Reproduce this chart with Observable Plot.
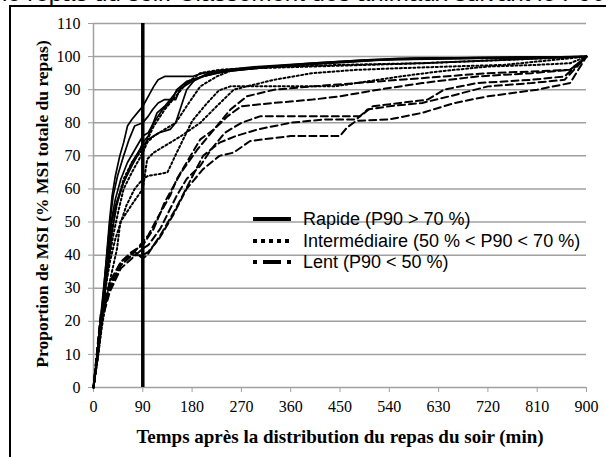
<!DOCTYPE html>
<html>
<head>
<meta charset="utf-8">
<script src="https://cdn.jsdelivr.net/npm/d3@7"></script>
<script src="https://cdn.jsdelivr.net/npm/@observablehq/plot@0.6"></script>
<style>
  html, body { margin: 0; padding: 0; background: #fff; overflow: hidden; }
  #wrap { position: relative; width: 606px; height: 457px; overflow: hidden; }
  #topText { position: absolute; left: 2px; top: -19px; font: 24px "Liberation Sans", Arial, sans-serif; line-height: 24px; white-space: nowrap; color: #000; }
  #frame { position: absolute; left: 9px; top: 5px; width: 700px; height: 600px; border-left: 2px solid #000; border-top: 2px solid #000; }
  #chart { position: absolute; left: 0; top: 0; }
</style>
</head>
<body>
<div id="wrap">
  <div id="topText">le repas du soir. Classement des animaux suivant le P90</div>
  <div id="frame"></div>
  <div id="chart"></div>
</div>
<script>
// ---- Data (time in min, cumulative % of meal DMI) ----
const xTicks = [0, 90, 180, 270, 360, 450, 540, 630, 720, 810, 900];
const yTicks = [0, 10, 20, 30, 40, 50, 60, 70, 80, 90, 100, 110];
const xTitle = "Temps après la distribution du repas du soir (min)";
const yTitle = "Proportion de MSI (% MSI totale du repas)";
const groups = ["Rapide (P90 > 70 %)", "Intermédiaire (50 % < P90 < 70 %)", "Lent (P90 < 50 %)"];
const markerTime = 90;

// Rapide (solid)
const rapide1 = [[0,0],[7,10],[13,20],[19,30],[24,40],[29,50],[34,58],[40,64],[48,70],[55,74],[62,79],[70,81],[80,83],[90,85],[100,88],[110,91],[118,93],[130,94],[180,94],[200,95],[240,96],[300,97],[400,98],[500,99],[560,99.5],[900,100]];
const rapide2 = [[0,0],[7,11],[13,21],[19,31],[25,41],[30,50],[36,58],[44,64],[55,70],[65,75],[75,79],[90,80],[100,82],[108,84],[118,86],[130,87],[150,87],[160,91],[180,93],[220,95],[270,96],[330,97],[420,98],[520,99],[600,99.5],[900,100]];
const rapide3 = [[0,0],[7,9],[13,19],[20,30],[26,40],[32,50],[40,57],[50,63],[62,68],[76,72],[90,76],[100,77],[110,80],[126,84],[144,87],[152,90],[170,92.5],[200,94],[240,95.5],[300,96.5],[380,97.5],[480,98.5],[580,99.5],[900,100]];
const rapide4 = [[0,0],[8,10],[14,20],[21,30],[27,40],[33,50],[42,56],[55,62],[70,67],[80,70],[90,74],[100,76],[116,83],[130,85],[140,87],[152,89.5],[175,92],[200,94],[250,96],[330,97],[420,98],[520,99],[900,100]];
const rapide5 = [[0,0],[8,9],[15,19],[21,29],[28,38],[34,47],[42,55],[55,62],[70,68],[85,72],[90,73],[100,75],[120,77],[140,78],[150,80],[160,85],[170,90],[185,93],[210,95],[260,96],[320,97],[400,98],[500,99],[900,100]];

// Intermédiaire (dotted)
const inter1 = [[0,0],[8,10],[15,20],[22,30],[30,38],[40,45],[50,50],[60,55],[75,60],[90,63],[100,64],[120,64.5],[135,65],[152,71],[180,80.5],[205,85.5],[229,89.8],[250,91],[290,91],[360,91],[440,91],[500,92.5],[560,94],[630,95.5],[720,97],[810,97.5],[870,98],[900,100]];
const inter2 = [[0,0],[8,10],[15,20],[22,30],[28,38],[36,46],[45,53],[55,60],[70,65],[80,68],[90,71],[98,74],[110,76],[130,78],[150,80],[170,85],[195,91],[225,94],[255,96],[300,96.5],[400,97],[500,97.5],[600,98],[900,100]];
const inter3 = [[0,0],[8,9],[15,18],[25,28],[31,33],[43,42],[49,50],[55,51.5],[73,56],[90,60],[98,69],[110,71],[130,73],[160,76],[195,80],[225,85],[256,90],[280,91],[330,93],[400,95],[480,96],[560,96.5],[650,97],[750,97.5],[900,100]];
const inter4 = [[0,0],[8,11],[15,21],[22,32],[29,42],[36,50],[45,57],[55,63],[70,68],[90,72],[110,79],[130,84],[150,88],[170,92],[195,95],[230,96],[280,96.5],[350,97],[450,97.5],[600,98],[750,99],[900,100]];

// Lent (dashed)
const lent1 = [[0,0],[5,8],[13,20],[30,30],[50,37],[70,40],[90,44],[100,46],[116,51],[140,58],[152,63],[170,68],[195,75],[220,78],[245,82],[270,85],[330,86],[400,87],[450,88],[520,90],[600,92],[700,94],[800,95],[870,96],[900,100]];
const lent2 = [[0,0],[13,19],[30,29],[50,36],[70,39],[90,42],[100,43],[122,48],[152,58],[170,63],[195,67],[215,72],[240,77],[270,80],[305,82],[400,82],[487,82],[510,85],[560,86],[610,87],[640,90],[700,92],[800,93],[860,94],[900,100]];
const lent3 = [[0,0],[13,20],[30,31],[50,37],[70,40],[90,40],[100,41],[120,45],[145,52],[170,60],[200,66],[230,70],[256,71],[286,74.5],[360,76],[450,76],[463,78.6],[480,80.6],[540,81],[600,83],[660,86],[720,88],[810,90],[870,92],[900,100]];
const lent4 = [[0,0],[13,21],[30,30],[50,38],[70,41],[90,43],[110,48],[130,56],[160,65],[190,72],[220,78],[250,84],[280,88],[330,90],[400,91],[480,92],[560,93],[640,94],[720,95],[800,95.5],[870,96],[900,100]];
const lent5 = [[0,0],[13,22],[30,32],[50,38],[75,41],[90,39],[98,40],[122,46],[150,54],[175,62],[200,70],[230,74],[260,76],[300,78],[360,80],[420,81],[480,81],[500,84],[540,85],[600,86],[650,88],[720,91],[800,92],[860,93],[900,100]];

const seriesList = [
  {id: "R1", group: 0, pts: rapide1}, {id: "R2", group: 0, pts: rapide2}, {id: "R3", group: 0, pts: rapide3},
  {id: "R4", group: 0, pts: rapide4}, {id: "R5", group: 0, pts: rapide5},
  {id: "I1", group: 1, pts: inter1}, {id: "I2", group: 1, pts: inter2}, {id: "I3", group: 1, pts: inter3}, {id: "I4", group: 1, pts: inter4},
  {id: "L1", group: 2, pts: lent1}, {id: "L2", group: 2, pts: lent2}, {id: "L3", group: 2, pts: lent3},
  {id: "L4", group: 2, pts: lent4}, {id: "L5", group: 2, pts: lent5}
];
const rows = seriesList.flatMap(s => s.pts.map(([t, v]) => ({t, v, id: s.id, group: s.group})));

const styles = [
  {strokeWidth: 1.7, strokeDasharray: null},
  {strokeWidth: 2, strokeDasharray: "2,2.5"},
  {strokeWidth: 2, strokeDasharray: "7,4"}
];

const lineMarks = styles.map((st, g) => Plot.line(rows.filter(r => r.group === g), {
  x: "t", y: "v", z: "id", stroke: "#000", strokeWidth: st.strokeWidth,
  strokeDasharray: st.strokeDasharray, strokeLinejoin: "round"
}));

const chart = Plot.plot({
  width: 606, height: 457,
  marginLeft: 93, marginRight: 20, marginTop: 23, marginBottom: 70,
  x: {domain: [0, 900]},
  y: {domain: [0, 110]},
  style: {fontFamily: "'Liberation Serif', 'Times New Roman', serif", fontSize: "16px", color: "#000", background: "transparent", overflow: "visible"},
  marks: [
    Plot.gridY(yTicks, {stroke: "#a0a0a0", strokeOpacity: 1, strokeWidth: 1.5}),
    Plot.ruleX([0], {stroke: "#a0a0a0", strokeWidth: 1.5}),
    Plot.axisY(yTicks, {tickSize: 5, tickPadding: 8, stroke: "#a0a0a0", fill: "#000", label: null}),
    Plot.axisX(xTicks, {tickSize: 5, tickPadding: 8, stroke: "#a0a0a0", fill: "#000", label: null}),
    ...lineMarks,
    Plot.ruleX([markerTime], {stroke: "#000", strokeWidth: 3.5})
  ]
});
document.getElementById("chart").appendChild(chart);

// Axis titles and legend
const svg = d3.select(chart);
svg.append("text").attr("x", 340).attr("y", 443).attr("text-anchor", "middle")
  .style("font", "bold 19px 'Liberation Serif', serif").attr("fill", "#000").text(xTitle);
svg.append("text").attr("transform", "translate(48,204) rotate(-90)").attr("text-anchor", "middle")
  .style("font", "bold 17.5px 'Liberation Serif', serif").attr("fill", "#000").text(yTitle);

const legY = [219, 241, 262];
const legStyles = [
  {w: 4, dash: null},
  {w: 4, dash: "4,4"},
  {w: 4, dash: "4,6,18,6"}
];
const leg = svg.append("g").attr("text-anchor", "start");
groups.forEach((name, i) => {
  const ln = leg.append("line").attr("x1", 253).attr("x2", 291).attr("y1", legY[i]).attr("y2", legY[i])
    .attr("stroke", "#000").attr("stroke-width", legStyles[i].w);
  if (legStyles[i].dash) ln.attr("stroke-dasharray", legStyles[i].dash);
  leg.append("text").attr("x", 303).attr("y", legY[i] + 6).attr("text-anchor", "start")
    .style("font", "18px 'Liberation Sans', Arial, sans-serif").attr("fill", "#000").text(name);
});
</script>
</body>
</html>
